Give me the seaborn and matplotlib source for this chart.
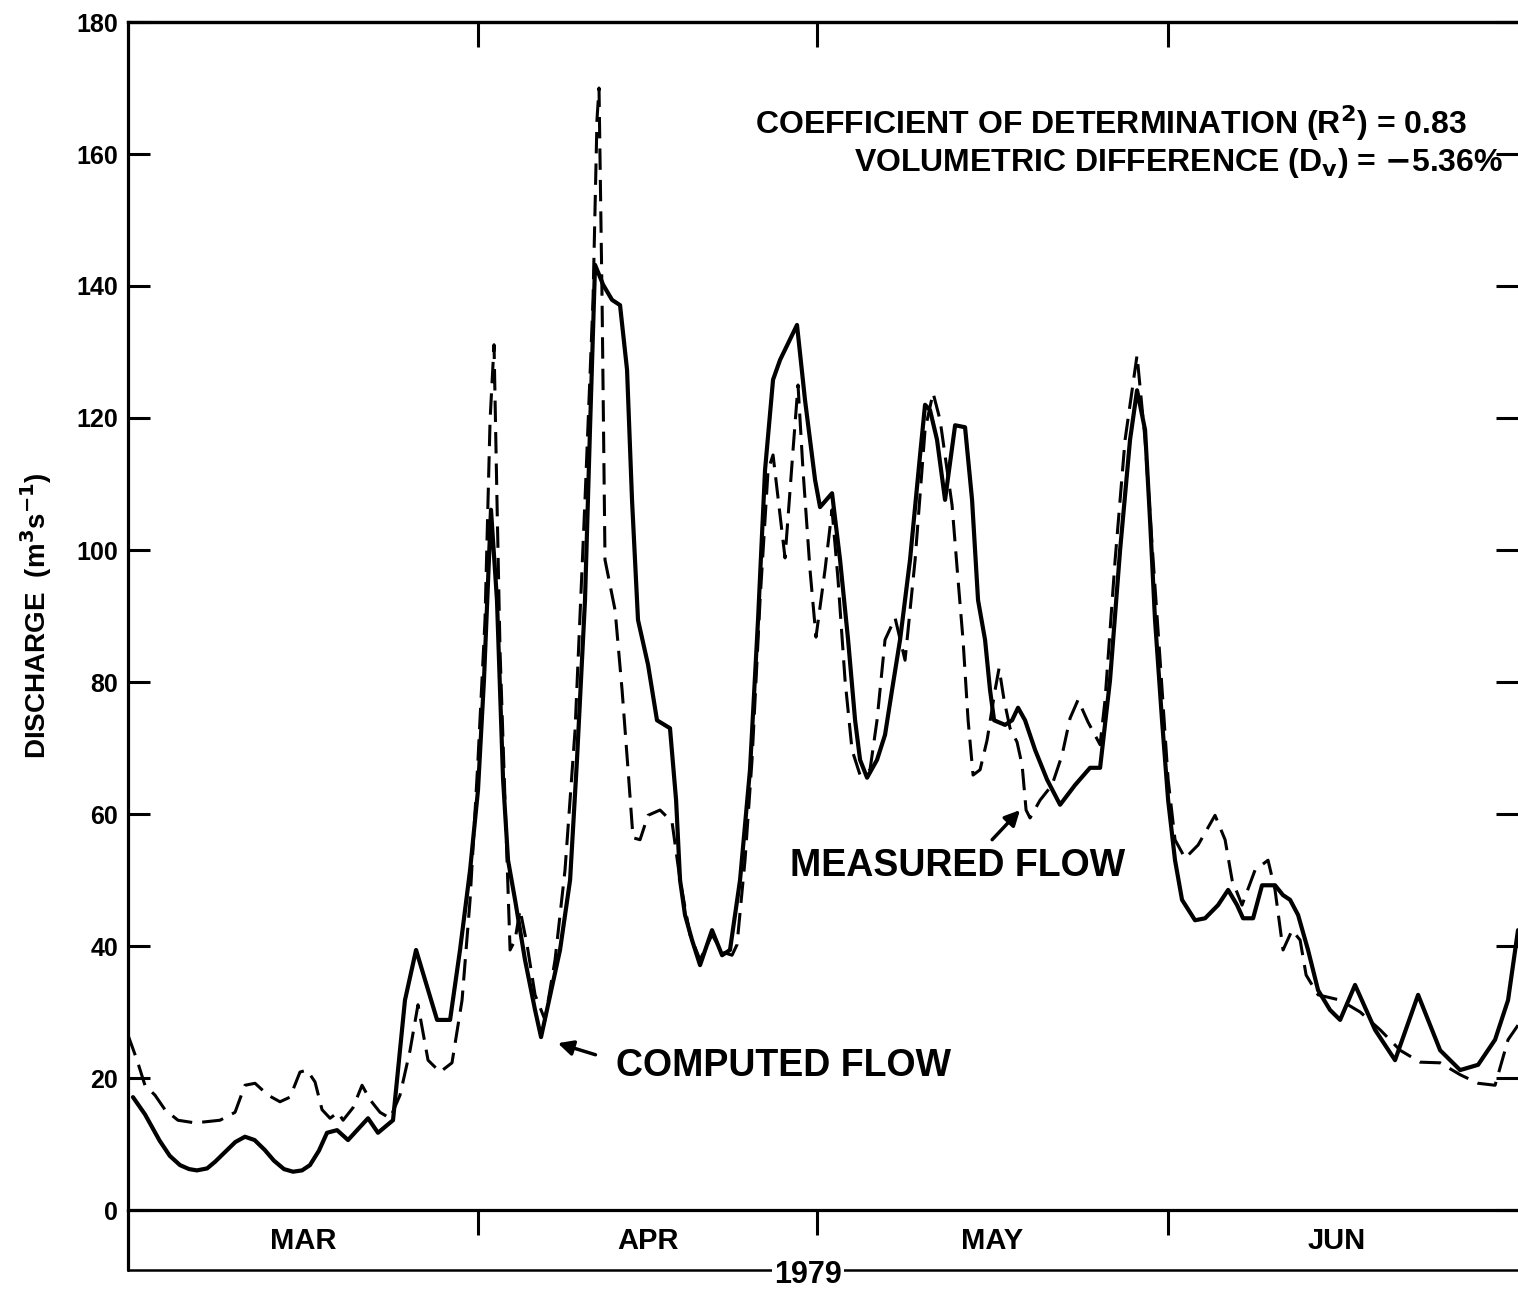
import matplotlib
matplotlib.use("Agg")
import matplotlib.pyplot as plt
import seaborn as sns
import numpy as np

# ---------------- data (day 0 = 1 March 1979) ----------------
computed_day = [0.44, 1.50, 2.80, 3.70, 4.60, 5.40, 6.10, 7.00, 7.70, 8.60, 9.50, 10.35,
                11.20, 12.10, 12.90, 13.80, 14.60, 15.40, 16.10, 16.90, 17.61, 18.50, 19.47,
                21.24, 22.12, 23.45, 24.51, 25.49, 27.35, 28.50, 29.38, 30.27, 30.97, 31.50,
                31.86, 32.12, 32.65, 33.19, 33.63, 34.25, 35.13, 36.02, 36.55, 38.23, 39.12,
                39.73, 40.44, 40.88, 41.33, 42.04, 42.83, 43.54, 44.16, 44.60, 45.13, 46.02,
                46.81, 47.96, 48.50, 48.85, 49.29, 49.91, 50.62, 51.68, 52.57, 53.27, 54.16,
                55.04, 55.75, 56.37, 57.08, 57.70, 59.20, 59.91, 60.80, 61.24, 62.30, 63.01,
                63.72, 64.34, 64.78, 65.40, 66.28, 66.99, 67.61, 68.32, 69.20, 70.09, 70.53,
                70.97, 71.59, 72.30, 73.19, 74.07, 74.69, 75.22, 75.84, 76.28, 76.64, 77.61,
                78.23, 78.76, 79.38, 80.27, 81.33, 82.48, 83.81, 85.13, 86.02, 86.90, 87.79,
                88.67, 89.29, 90.00, 90.44, 90.88, 91.50, 92.04, 92.65, 93.27, 94.42, 95.31,
                96.46, 97.35, 98.14, 98.67, 99.56, 100.35, 101.50, 102.21, 102.83, 103.54,
                104.42, 105.31, 106.37, 107.26, 108.58, 110.35, 112.12, 114.16, 116.11,
                117.88, 119.47, 120.97, 122.12, 123.00]
computed_flow = [17.1, 14.5, 10.5, 8.2, 6.8, 6.2, 6.0, 6.3, 7.3, 8.8, 10.3, 11.1,
                 10.6, 9.1, 7.5, 6.2, 5.8, 6.0, 6.8, 9.0, 11.7, 12.1, 10.6,
                 13.9, 11.7, 13.6, 31.8, 39.4, 28.8, 28.8, 39.4, 51.5, 63.6, 80.3,
                 95.5, 106.1, 92.4, 65.2, 53.0, 47.0, 37.9, 30.3, 26.2, 39.4, 50.0,
                 68.2, 92.4, 118.2, 143.2, 140.2, 137.9, 137.1, 127.3, 107.6, 89.4, 82.6,
                 74.2, 73.0, 62.1, 50.0, 44.7, 40.9, 37.1, 42.4, 38.6, 39.4, 50.0,
                 66.7, 89.4, 112.1, 125.8, 128.8, 134.1, 122.7, 110.6, 106.5, 108.6, 98.5,
                 86.4, 74.2, 68.2, 65.5, 68.2, 72.0, 78.8, 86.4, 98.5, 114.4, 122.0,
                 121.2, 116.7, 107.6, 118.9, 118.6, 107.6, 92.4, 86.4, 78.8, 74.2, 73.5,
                 74.2, 76.1, 74.2, 69.7, 65.2, 61.4, 64.4, 67.0, 67.0, 80.3, 100.0,
                 116.7, 124.2, 118.2, 104.5, 89.4, 74.2, 62.1, 53.0, 47.0, 43.9, 44.2,
                 46.2, 48.5, 46.2, 44.2, 44.2, 49.2, 49.2, 47.7, 47.0, 44.7,
                 39.4, 33.3, 30.3, 28.8, 34.1, 27.3, 22.7, 32.6, 24.2,
                 21.2, 22.0, 25.8, 31.8, 42.4]

measured_day = [0.00, 0.80, 1.50, 2.39, 3.27, 4.42, 5.93, 8.14, 9.47, 10.35, 11.24, 12.39,
                13.45, 14.34, 15.22, 15.84, 16.55, 17.17, 17.88, 18.58, 19.03, 19.91, 20.71,
                21.42, 22.30, 23.19, 24.07, 24.96, 25.66, 26.55, 27.61, 28.67, 29.56, 30.27,
                30.97, 31.59, 32.04, 32.39, 32.65, 32.92, 33.36, 33.81, 34.25, 34.69, 35.31,
                36.02, 36.90, 37.79, 38.67, 39.56, 40.44, 41.15, 41.50, 41.68, 41.95, 42.21,
                43.10, 43.72, 44.25, 44.69, 45.31, 46.02, 47.08, 48.14, 48.85, 49.73, 50.62,
                51.68, 52.57, 53.45, 53.89, 54.60, 55.22, 55.93, 56.64, 57.08, 58.14, 58.85,
                59.29, 59.73, 60.35, 60.88, 61.68, 62.30, 62.83, 63.45, 64.07, 64.78, 65.66,
                66.28, 66.99, 67.88, 68.76, 69.65, 70.53, 71.24, 71.86, 72.48, 72.92, 73.45,
                73.89, 74.34, 74.78, 75.40, 76.02, 76.73, 77.08, 77.52, 78.05, 78.67, 79.12,
                79.47, 79.82, 80.71, 81.77, 82.65, 83.36, 84.07, 84.96, 86.02, 86.46, 87.35,
                88.23, 89.29, 90.00, 90.62, 91.33, 92.04, 92.65, 93.54, 94.69, 96.19, 97.08,
                97.70, 98.58, 99.73, 100.88, 101.50, 102.21, 103.01, 103.72, 104.25, 105.31,
                107.26, 109.03, 110.80, 112.57, 114.34, 116.11, 117.88, 119.47, 120.97,
                122.12, 123.00]
measured_flow = [26.5, 22.7, 18.9, 17.4, 15.2, 13.6, 13.2, 13.6, 14.8, 18.9, 19.2, 17.4,
                 16.4, 17.1, 20.9, 21.2, 19.4, 15.2, 13.9, 14.8, 13.6, 15.5, 18.9,
                 16.7, 14.8, 13.9, 17.4, 24.2, 31.1, 22.7, 20.9, 22.3, 31.8, 47.0,
                 68.2, 89.4, 119.7, 131.1, 107.6, 84.8, 62.1, 39.4, 40.9, 45.5, 40.2,
                 32.6, 28.8, 37.9, 51.5, 72.7, 107.6, 137.9, 165.2, 170.0, 137.9, 98.5,
                 90.9, 78.8, 66.7, 56.4, 56.1, 59.8, 60.6, 58.8, 50.0, 41.7, 37.9,
                 41.7, 39.1, 38.6, 40.2, 53.0, 68.2, 92.4, 112.1, 114.4, 98.8, 115.2,
                 125.0, 112.1, 97.0, 86.8, 97.0, 106.1, 95.5, 80.3, 69.7, 65.9, 66.7,
                 74.2, 86.4, 89.7, 83.3, 98.5, 118.2, 123.8, 119.7, 112.1, 106.8, 95.5,
                 86.4, 74.2, 65.9, 66.7, 71.2, 78.8, 82.1, 77.3, 73.0, 70.9, 67.4,
                 60.6, 59.4, 62.1, 64.4, 68.9, 74.5, 77.3, 73.9, 70.5, 77.3, 98.5,
                 116.7, 129.5, 116.7, 100.8, 83.3, 65.2, 56.1, 53.3, 55.3, 59.8, 56.1,
                 50.0, 46.2, 51.5, 53.0, 48.5, 39.4, 42.4, 40.9, 35.6, 32.6,
                 31.8, 30.0, 27.3, 24.2, 22.4, 22.3, 20.5, 19.2, 18.9,
                 25.8, 28.0]

month_starts = [31, 61, 92]
month_labels = ["MAR", "APR", "MAY", "JUN"]
month_centers = [15.5, 46.0, 76.5, 107.0]
y_ticks = [0, 20, 40, 60, 80, 100, 120, 140, 160, 180]
year_label = "1979"
stat_lines = [r"COEFFICIENT OF DETERMINATION (R$^\mathbf{2}$) = 0.83",
              r"VOLUMETRIC DIFFERENCE (D$_\mathbf{v}$) = $-$5.36%"]

# ---------------- plot ----------------
sns.set_style("white")
plt.rcParams["font.family"] = ["Liberation Sans", "DejaVu Sans"]
plt.rcParams["font.weight"] = "bold"
plt.rcParams["mathtext.default"] = "bf"
for k in ["text.color", "axes.labelcolor", "xtick.color", "ytick.color", "axes.edgecolor"]:
    plt.rcParams[k] = "black"

fig = plt.figure(figsize=(15.18, 12.91), dpi=100)
ax = fig.add_axes([128 / 1518, 81 / 1291, 1 - 128 / 1518, 1188 / 1291])

sns.lineplot(x=computed_day, y=computed_flow, ax=ax, color="black", lw=3.0,
             estimator=None, sort=False)
sns.lineplot(x=measured_day, y=measured_flow, ax=ax, color="black", lw=2.2,
             estimator=None, sort=False, linestyle=(0, (7, 3.3)))

ax.set_xlim(0, 123)
ax.set_ylim(0, 180)
ax.set_xlabel("")
ax.set_ylabel(r"DISCHARGE  (m$^\mathbf{3}$s$^\mathbf{-1}$)", fontsize=20,
              fontweight="bold", labelpad=16)

for s in ["left", "bottom", "top"]:
    ax.spines[s].set_linewidth(2.3)
    ax.spines[s].set_color("black")
ax.spines["right"].set_visible(False)

ax.set_yticks(y_ticks)
ax.set_yticklabels([str(t) for t in y_ticks], fontsize=18, fontweight="bold")
ax.tick_params(axis="y", left=True, right=True, direction="in", length=16,
               width=2.2, pad=7, colors="black")
ax.set_xticks(month_starts)
ax.tick_params(axis="x", bottom=True, top=False, direction="out", length=18,
               width=2.2, labelbottom=False)
sec = ax.secondary_xaxis("top")
sec.set_xticks(month_starts)
sec.tick_params(direction="in", length=18, width=2.2, labeltop=False)
sec.spines["top"].set_linewidth(2.3)

# lower month box
box_h = 60 / 1188
ax.plot([0, 0], [0, -box_h], transform=ax.transAxes, color="black", lw=2.3, clip_on=False)
ax.plot([0, 1], [-box_h, -box_h], transform=ax.transAxes, color="black", lw=1.8, clip_on=False)
trans = ax.get_xaxis_transform()
for c, lab in zip(month_centers, month_labels):
    ax.text(c, -0.026, lab, transform=trans, ha="center", va="center",
            fontsize=21, fontweight="bold")
ax.text(60.2, -box_h - 0.004, year_label, transform=trans, ha="center", va="center",
        fontsize=22, fontweight="bold",
        bbox=dict(facecolor="white", edgecolor="none", pad=1.5))

# statistics text
ax.text(0.963, 164.7, stat_lines[0], transform=ax.get_yaxis_transform(),
        ha="right", va="center", fontsize=23, fontweight="bold")
ax.text(0.989, 158.6, stat_lines[1], transform=ax.get_yaxis_transform(),
        ha="right", va="center", fontsize=23, fontweight="bold")

# series labels with arrows
ax.text(58.0, 21.8, "COMPUTED FLOW", ha="center", va="center", fontsize=27,
        fontweight="bold")
ax.annotate("", xy=(37.8, 25.4), xytext=(41.6, 23.4),
            arrowprops=dict(arrowstyle="-|>,head_length=0.9,head_width=0.45",
                            color="black", lw=2.5))
ax.text(73.4, 52.1, "MEASURED FLOW", ha="center", va="center", fontsize=27,
        fontweight="bold")
ax.annotate("", xy=(79.1, 60.9), xytext=(76.3, 55.8),
            arrowprops=dict(arrowstyle="-|>,head_length=0.9,head_width=0.45",
                            color="black", lw=2.5))

fig.savefig("out.png", dpi=100, facecolor="white")
